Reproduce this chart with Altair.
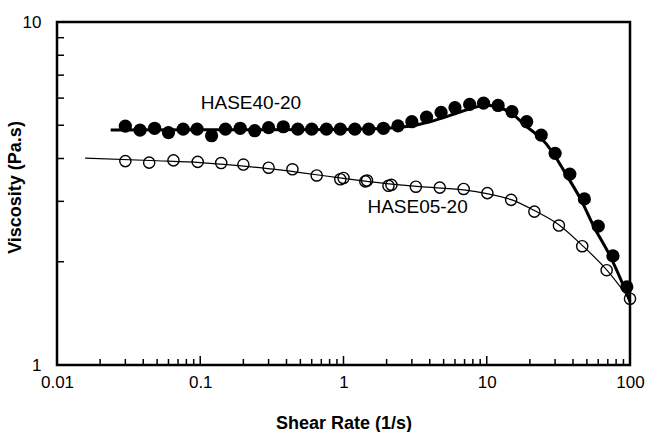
import altair as alt
import pandas as pd

# Steady-shear viscosity of two HASE polymers (log-log)
hase40_rate = [0.030, 0.038, 0.048, 0.060, 0.076, 0.095, 0.12, 0.15, 0.19, 0.24,
               0.30, 0.38, 0.48, 0.60, 0.76, 0.95, 1.2, 1.5, 1.9, 2.4,
               3.0, 3.8, 4.8, 6.0, 7.6, 9.5, 12, 15, 19, 24,
               30, 38, 48, 60, 76, 95]
hase40_visc = [4.97, 4.84, 4.90, 4.76, 4.87, 4.87, 4.66, 4.87, 4.90, 4.82,
               4.92, 4.95, 4.87, 4.87, 4.87, 4.87, 4.87, 4.87, 4.90, 4.98,
               5.12, 5.28, 5.45, 5.63, 5.75, 5.80, 5.71, 5.48, 5.12, 4.68,
               4.14, 3.60, 3.05, 2.54, 2.08, 1.69]

hase05_rate = [0.030, 0.044, 0.065, 0.096, 0.14, 0.20, 0.30, 0.44, 0.65, 0.95,
               1.0, 1.42, 1.46, 2.06, 2.16, 3.2, 4.7, 6.9, 10.1, 14.8,
               21.5, 31.9, 46.4, 68.7, 100]
hase05_visc = [3.93, 3.89, 3.95, 3.91, 3.88, 3.84, 3.76, 3.72, 3.57, 3.48,
               3.51, 3.43, 3.45, 3.33, 3.35, 3.31, 3.29, 3.26, 3.17, 3.03,
               2.80, 2.55, 2.22, 1.89, 1.56]

# Model fit curves
fit40_rate = [0.0237, 0.1, 1, 2, 3, 4, 6, 8, 10, 12, 15, 19, 24, 28, 36, 45.5, 56, 72.5,
              90.7, 100]
fit40_visc = [4.84, 4.85, 4.86, 4.90, 4.98, 5.12, 5.40, 5.62, 5.72, 5.65, 5.40, 4.95, 4.58,
              4.24, 3.58, 3.03, 2.53, 2.08, 1.69, 1.53]
fit05_rate = [0.0157, 0.05, 0.1, 0.26, 0.5, 1.0, 2.0, 3.4, 6.9, 10, 15, 21.5, 32, 46, 69, 100]
fit05_visc = [4.01, 3.94, 3.89, 3.76, 3.64, 3.50, 3.38, 3.31, 3.24, 3.16, 3.03, 2.82,
              2.56, 2.24, 1.89, 1.55]

# Series labels
label_text = ["HASE40-20", "HASE05-20"]
label_rate = [0.226, 3.29]
label_visc = [5.80, 2.89]

x_label_values = [0.01, 0.1, 1, 10, 100]
y_label_values = [1, 10]
x_minor = [m * d for d in (0.01, 0.1, 1, 10) for m in range(2, 10)]
x_major = [0.1, 1, 10]
y_minor = [m for m in range(2, 10)]

FONT = "Liberation Sans"
W, H = 573, 343

xscale = alt.Scale(type="log", domain=[0.01, 100], nice=False)
yscale = alt.Scale(type="log", domain=[1, 10], nice=False)

df40 = pd.DataFrame({"rate": hase40_rate, "visc": hase40_visc})
df05 = pd.DataFrame({"rate": hase05_rate, "visc": hase05_visc})
fit40 = pd.DataFrame({"rate": fit40_rate, "visc": fit40_visc})
fit05 = pd.DataFrame({"rate": fit05_rate, "visc": fit05_visc})
labels = pd.DataFrame({"text": label_text, "rate": label_rate, "visc": label_visc})

x_main = alt.Axis(values=x_label_values, format="~g", ticks=False, domain=False, grid=False,
                  labelFlush=False, labelFont=FONT, labelFontSize=17, labelColor="black",
                  labelPadding=9, title="Shear Rate (1/s)", titleFont=FONT, titleFontSize=18,
                  titleFontWeight="bold", titleColor="black", titleY=58,
                  titleBaseline="middle")
y_main = alt.Axis(values=y_label_values, format="~g", ticks=False, domain=False, grid=False,
                  labelFlush=False, labelFont=FONT, labelFontSize=17, labelColor="black",
                  labelPadding=16, title="Viscosity (Pa.s)", titleFont=FONT, titleFontSize=18,
                  titleFontWeight="bold", titleColor="black", titleX=-33, titleY=165,
                  titleAngle=-90)

X = lambda: alt.X("rate:Q", scale=xscale, axis=None)
Y = lambda: alt.Y("visc:Q", scale=yscale, axis=None)

filled = alt.Chart(df40).mark_point(filled=True, shape="circle", size=175, color="black",
                                    opacity=1).encode(
    x=alt.X("rate:Q", scale=xscale, axis=x_main),
    y=alt.Y("visc:Q", scale=yscale, axis=y_main),
)

hollow = alt.Chart(df05).mark_point(shape="circle", size=125, color="black", strokeWidth=1.4,
                                    opacity=1).encode(x=X(), y=Y())

line40 = alt.Chart(fit40).mark_line(color="black", strokeWidth=3,
                                    interpolate="monotone").encode(x=X(), y=Y())
line05 = alt.Chart(fit05).mark_line(color="black", strokeWidth=1.2,
                                    interpolate="monotone").encode(x=X(), y=Y())

text = alt.Chart(labels).mark_text(font=FONT, fontSize=19, color="black", align="center",
                                   baseline="middle").encode(x=X(), y=Y(), text="text:N")

# inward tick marks along the bottom and left frame edges
xminor_ticks = alt.Chart(pd.DataFrame({"rate": x_minor})).mark_rule(
    color="black", strokeWidth=1.5).encode(x=X(), y=alt.value(H), y2=alt.value(H - 6))
xmajor_ticks = alt.Chart(pd.DataFrame({"rate": x_major})).mark_rule(
    color="black", strokeWidth=1.5).encode(x=X(), y=alt.value(H), y2=alt.value(H - 9))
yminor_ticks = alt.Chart(pd.DataFrame({"visc": y_minor})).mark_rule(
    color="black", strokeWidth=1.5).encode(y=Y(), x=alt.value(0), x2=alt.value(7))

chart = alt.layer(
    filled, hollow, line05, line40, text, xminor_ticks, xmajor_ticks, yminor_ticks
).resolve_axis(
    x="independent", y="independent"
).properties(
    width=W, height=H,
    autosize=alt.AutoSizeParams(type="none"),
    padding={"left": 57, "top": 22, "right": 18, "bottom": 67},
    background="white",
).configure_view(stroke="black", strokeWidth=2.5)

chart.save("out.html", embed_options={"renderer": "svg", "actions": False})
